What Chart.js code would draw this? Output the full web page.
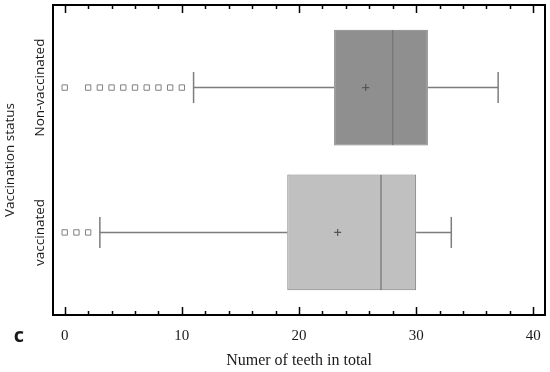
<!DOCTYPE html>
<html>
<head>
<meta charset="utf-8">
<title>Number of teeth by vaccination status</title>
<script src="https://cdn.jsdelivr.net/npm/chart.js@4/dist/chart.umd.min.js"></script>
<style>
  html, body { margin: 0; padding: 0; background: #fff; }
  canvas { display: block; }
</style>
</head>
<body>
<canvas id="teethChart" width="550" height="372"></canvas>
<script>
const categories = ['Non-vaccinated', 'vaccinated'];
const whiskerLow = [11, 3];
const q1 = [23, 19];
const median = [28, 27];
const q3 = [31, 30];
const whiskerHigh = [37, 33];
const means = [25.7, 23.3];
const outliers = [
    [0, 2, 3, 4, 5, 6, 7, 8, 9, 10],
    [0, 1, 2]
];
const xTickValues = [0, 2, 4, 6, 8, 10, 12, 14, 16, 18, 20, 22, 24, 26, 28, 30, 32, 34, 36, 38, 40];

const boxColors = ['#8f8f8f', '#c0c0c0'];
const lineGray = '#7d7d7d';
const serif = "'Liberation Serif', 'DejaVu Serif', serif";
const sans = "'Open Sans', 'Noto Sans', sans-serif";

// category index on the y scale: 1, 2, ...
const pos = i => i + 1;

const whiskerSets = [];
categories.forEach((c, i) => {
    whiskerSets.push({
        type: 'line',
        data: [{x: whiskerLow[i], y: pos(i)}, {x: q1[i], y: pos(i)}],
        borderColor: lineGray, borderWidth: 1.5, pointRadius: 0
    });
    whiskerSets.push({
        type: 'line',
        data: [{x: q3[i], y: pos(i)}, {x: whiskerHigh[i], y: pos(i)}],
        borderColor: lineGray, borderWidth: 1.5, pointRadius: 0
    });
});

// no extra edge padding from tick labels; the layout is fixed by hand
const fixAxis = size => s => {
    if (s.isHorizontal()) s.height = size; else s.width = size;
    s.paddingLeft = s.paddingRight = s.paddingTop = s.paddingBottom = 0;
};

// frame with inward ticks top and bottom, category labels and panel letter
const framePlugin = {
    id: 'frame',
    afterDraw(chart) {
        const {ctx, chartArea: a, scales} = chart;
        ctx.save();
        ctx.strokeStyle = '#000';
        ctx.lineWidth = 1.5;
        xTickValues.forEach(v => {
            const px = Math.round(scales.x.getPixelForValue(v)) + 0.5;
            const len = v % 10 === 0 ? 8 : 4;
            ctx.beginPath();
            ctx.moveTo(px, a.bottom);
            ctx.lineTo(px, a.bottom - len);
            ctx.moveTo(px, a.top);
            ctx.lineTo(px, a.top + len);
            ctx.stroke();
        });
        ctx.lineWidth = 2;
        ctx.strokeRect(a.left, a.top, a.right - a.left, a.bottom - a.top);

        ctx.fillStyle = '#1a1a1a';
        ctx.font = '13.5px ' + sans;
        ctx.textAlign = 'center';
        ctx.textBaseline = 'middle';
        categories.forEach((c, i) => {
            const py = scales.y.getPixelForValue(pos(i));
            ctx.save();
            ctx.translate(a.left - 13, py);
            ctx.rotate(-Math.PI / 2);
            ctx.fillText(c, 0, 0);
            ctx.restore();
        });

        ctx.font = 'bold 20px ' + sans;
        ctx.fillText('c', 19, 336);
        ctx.restore();
    }
};

new Chart(document.getElementById('teethChart'), {
    type: 'bar',
    data: {
        datasets: [
            {
                type: 'scatter',
                data: means.map((m, i) => ({x: m, y: pos(i)})),
                pointStyle: 'cross', pointRadius: 3.5,
                borderColor: '#555', borderWidth: 1.2
            },
            {
                type: 'scatter',
                data: median.map((m, i) => ({x: m, y: pos(i)})),
                pointStyle: 'line', pointRotation: 90, pointRadius: 57.5,
                borderColor: '#777', borderWidth: 1.3
            },
            {
                type: 'scatter',
                data: outliers.flatMap((list, i) => list.map(v => ({x: v, y: pos(i)}))),
                pointStyle: 'rect', pointRadius: 3.8,
                backgroundColor: '#fff', borderColor: '#808080', borderWidth: 1
            },
            {
                type: 'scatter',
                data: categories.flatMap((c, i) => [
                    {x: whiskerLow[i], y: pos(i)},
                    {x: whiskerHigh[i], y: pos(i)}
                ]),
                pointStyle: 'line', pointRotation: 90, pointRadius: 15.5,
                borderColor: lineGray, borderWidth: 1.5
            },
            ...whiskerSets,
            {
                data: categories.map((c, i) => ({x: [q1[i], q3[i]], y: pos(i)})),
                backgroundColor: boxColors,
                borderColor: lineGray, borderWidth: 1, borderSkipped: false,
                barPercentage: 0.8, categoryPercentage: 1
            }
        ]
    },
    options: {
        indexAxis: 'y',
        responsive: false,
        animation: false,
        layout: { autoPadding: false, padding: { top: 5, right: 5, left: 0, bottom: 0 } },
        plugins: {
            legend: { display: false },
            tooltip: { enabled: false }
        },
        scales: {
            x: {
                type: 'linear',
                position: 'bottom',
                offset: false,
                beginAtZero: false,
                min: -1,
                max: 41,
                afterBuildTicks: s => { s.ticks = xTickValues.map(v => ({value: v})); },
                ticks: {
                    autoSkip: false,
                    maxRotation: 0,
                    padding: 12,
                    color: '#1a1a1a',
                    font: { family: serif, size: 15 },
                    callback: v => (v % 10 === 0 ? String(v) : '')
                },
                grid: { display: false, drawTicks: false, offset: false },
                border: { display: false },
                title: {
                    display: true,
                    text: 'Numer of teeth in total',
                    color: '#1a1a1a',
                    font: { family: serif, size: 16 },
                    padding: { top: 0, bottom: 2 }
                },
                afterFit: fixAxis(57)
            },
            y: {
                type: 'linear',
                position: 'left',
                offset: false,
                reverse: true,
                min: 0.43,
                max: 2.57,
                afterBuildTicks: s => { s.ticks = categories.map((c, i) => ({value: pos(i)})); },
                ticks: { display: false },
                grid: { display: false, drawTicks: false, offset: false },
                border: { display: false },
                title: {
                    display: true,
                    text: 'Vaccination status',
                    color: '#1a1a1a',
                    font: { family: sans, size: 13.5 },
                    padding: { top: 2, bottom: 0 }
                },
                afterFit: fixAxis(53)
            }
        }
    },
    plugins: [framePlugin]
});
</script>
</body>
</html>
